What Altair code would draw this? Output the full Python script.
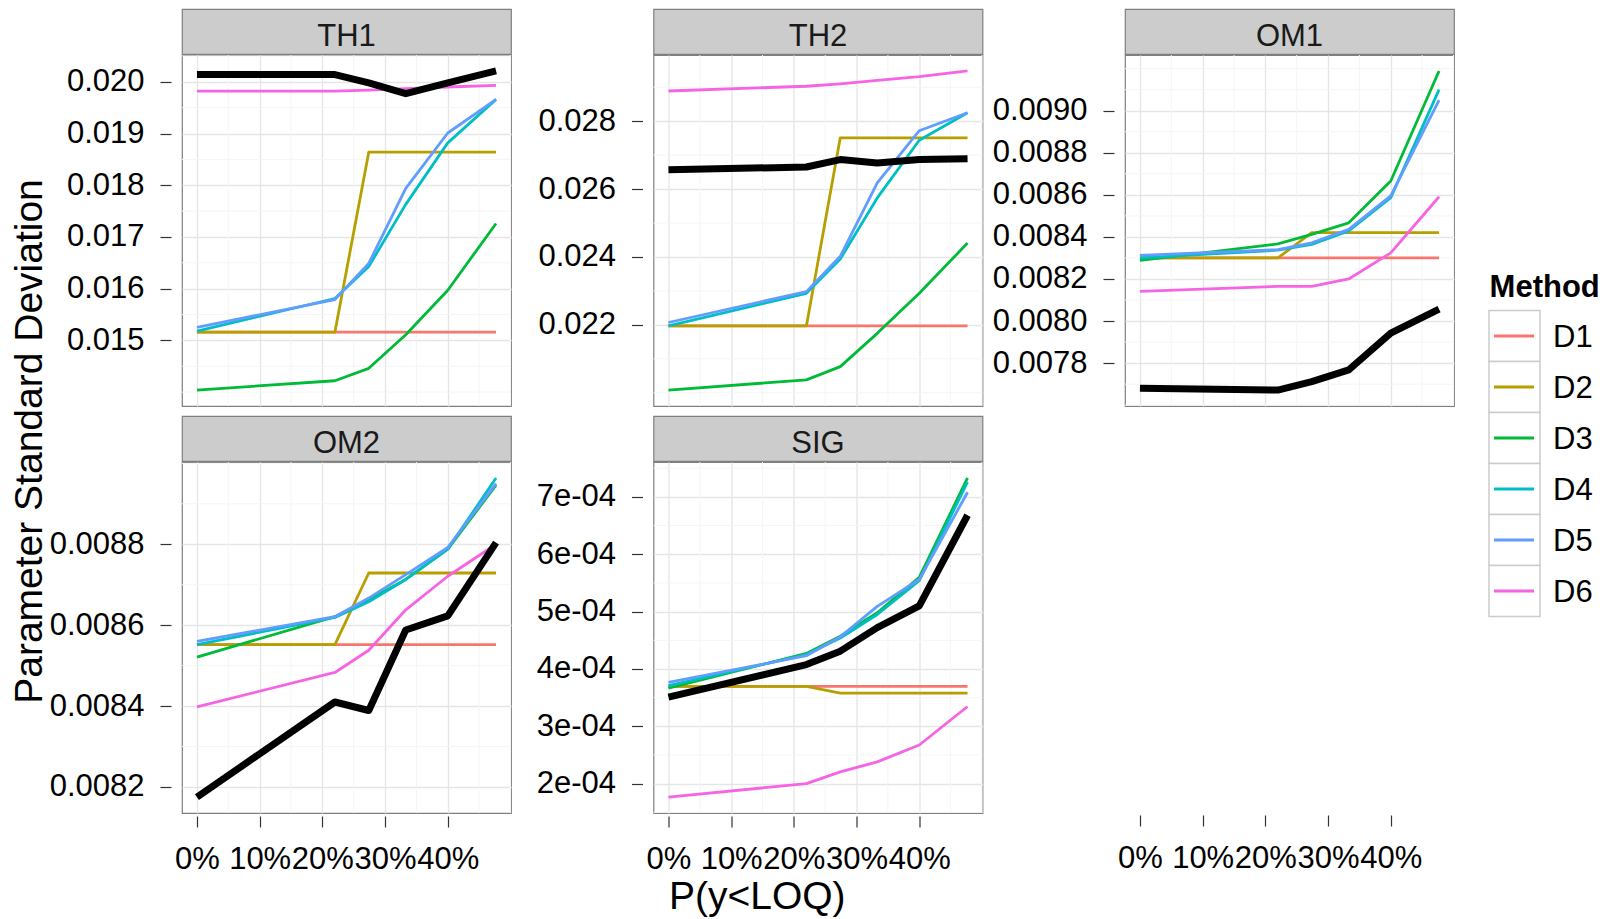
import math
import altair as alt
import pandas as pd

# ---------------- data ----------------
P_LOQ = [0.0, 0.22, 0.274, 0.333, 0.40, 0.477]
METHODS = ["D1", "D2", "D3", "D4", "D5", "D6"]
METHOD_COLORS = ["#F8766D", "#B79F00", "#00BA38", "#00BFC4", "#619CFF", "#F564E3"]
REF = "Reference"

TH1 = {
    "D1": [0.01516, 0.01516, 0.01516, 0.01516, 0.01516, 0.01516],
    "D2": [0.01516, 0.01516, 0.01864, 0.01864, 0.01864, 0.01864],
    "D3": [0.01404, 0.01422, 0.01446, 0.01511, 0.01597, 0.01726],
    "D4": [0.01518, 0.01581, 0.01643, 0.01763, 0.01882, 0.01966],
    "D5": [0.01525, 0.01579, 0.01649, 0.01794, 0.01901, 0.01966],
    "D6": [0.01982, 0.01982, 0.01984, 0.01987, 0.01990, 0.01993],
    REF: [0.02014, 0.02014, 0.01998, 0.01977, 0.01998, 0.02021],
}
TH2 = {
    "D1": [0.02197, 0.02197, 0.02197, 0.02197, 0.02197, 0.02197],
    "D2": [0.02197, 0.02197, 0.02751, 0.02751, 0.02751, 0.02751],
    "D3": [0.02008, 0.02038, 0.02077, 0.02175, 0.02293, 0.02441],
    "D4": [0.02197, 0.02293, 0.02394, 0.02574, 0.02744, 0.02825],
    "D5": [0.02207, 0.02298, 0.02402, 0.02618, 0.02772, 0.02825],
    "D6": [0.02889, 0.02903, 0.02910, 0.02920, 0.02931, 0.02948],
    REF: [0.02657, 0.02665, 0.02687, 0.02677, 0.02687, 0.02689],
}
OM1 = {
    "D1": [0.008300, 0.008300, 0.008300, 0.008300, 0.008300, 0.008300],
    "D2": [0.008300, 0.008300, 0.008420, 0.008420, 0.008420, 0.008420],
    "D3": [0.008288, 0.008367, 0.008412, 0.008467, 0.008666, 0.009189],
    "D4": [0.008300, 0.008337, 0.008364, 0.008428, 0.008587, 0.009100],
    "D5": [0.008312, 0.008340, 0.008372, 0.008436, 0.008595, 0.009050],
    "D6": [0.008141, 0.008165, 0.008165, 0.008200, 0.008324, 0.008591],
    REF: [0.007680, 0.007672, 0.007712, 0.007768, 0.007943, 0.008057],
}
OM2 = {
    "D1": [0.008552, 0.008552, 0.008552, 0.008552, 0.008552, 0.008552],
    "D2": [0.008552, 0.008552, 0.008729, 0.008729, 0.008729, 0.008729],
    "D3": [0.008521, 0.008621, 0.008663, 0.008713, 0.008788, 0.008946],
    "D4": [0.008552, 0.008619, 0.008658, 0.008713, 0.008788, 0.008964],
    "D5": [0.008560, 0.008621, 0.008667, 0.008725, 0.008792, 0.008950],
    "D6": [0.008398, 0.008483, 0.008538, 0.008638, 0.008721, 0.008800],
    REF: [0.008175, 0.008410, 0.008389, 0.008588, 0.008623, 0.008804],
}
SIG = {
    "D1": [3.696e-4, 3.696e-4, 3.696e-4, 3.696e-4, 3.696e-4, 3.696e-4],
    "D2": [3.696e-4, 3.696e-4, 3.579e-4, 3.579e-4, 3.579e-4, 3.579e-4],
    "D3": [3.667e-4, 4.270e-4, 4.570e-4, 4.980e-4, 5.596e-4, 7.330e-4],
    "D4": [3.708e-4, 4.250e-4, 4.540e-4, 4.950e-4, 5.540e-4, 7.260e-4],
    "D5": [3.766e-4, 4.230e-4, 4.560e-4, 5.090e-4, 5.560e-4, 7.080e-4],
    "D6": [1.766e-4, 2.000e-4, 2.205e-4, 2.380e-4, 2.673e-4, 3.345e-4],
    REF: [3.509e-4, 4.076e-4, 4.310e-4, 4.720e-4, 5.100e-4, 6.680e-4],
}

TH1_TICKS = [0.015, 0.016, 0.017, 0.018, 0.019, 0.020]
TH2_TICKS = [0.022, 0.024, 0.026, 0.028]
OM1_TICKS = [0.0078, 0.0080, 0.0082, 0.0084, 0.0086, 0.0088, 0.0090]
OM2_TICKS = [0.0082, 0.0084, 0.0086, 0.0088]
SIG_TICKS = [2e-4, 3e-4, 4e-4, 5e-4, 6e-4, 7e-4]
X_TICKS = [0.0, 0.1, 0.2, 0.3, 0.4]

X_TITLE = "P(y<LOQ)"
Y_TITLE = "Parameter Standard Deviation"
LEGEND_TITLE = "Method"

# ---------------- styling ----------------
FONT = "Liberation Sans"
W, H, STRIP = 329, 351, 45
BORDER = "#7F7F7F"
MAJOR_GRID = "#E5E5E5"
MINOR_GRID = "#F5F5F5"
TXT = 31
TITLE_SIZE = 39


def long_frame(series):
    rows = []
    for m, vals in series.items():
        for x, v in zip(P_LOQ, vals):
            rows.append({"p": x, "sd": v, "Method": m})
    return pd.DataFrame(rows)


def expanded(vals):
    lo, hi = min(vals), max(vals)
    pad = 0.05 * (hi - lo)
    return [lo - pad, hi + pad]


def minor_values(ticks, dom):
    step = (ticks[1] - ticks[0]) / 2
    out = []
    k = math.floor(dom[0] / step)
    while k * step <= dom[1]:
        v = k * step
        if v >= dom[0] and all(abs(v - t) > step * 0.1 for t in ticks):
            out.append(round(v, 12))
        k += 1
    return out


X_DOMAIN = expanded(P_LOQ)
X_MINOR = minor_values(X_TICKS, X_DOMAIN)
COLOR_SCALE = alt.Scale(domain=METHODS, range=METHOD_COLORS)


def x_axis(labels, grid=True):
    if labels:
        return alt.Axis(orient="bottom", values=X_TICKS, format=".0%", grid=grid,
                        gridColor=MAJOR_GRID, gridWidth=1.3, domain=False,
                        tickSize=11, tickColor="#333333", tickWidth=1.2, offset=3,
                        labelFont=FONT, labelFontSize=TXT, labelColor="black",
                        labelPadding=17, labelOverlap=False, labelFlush=False,
                        labelBound=False, title=None)
    return alt.Axis(orient="bottom", values=X_TICKS, grid=True, gridColor=MAJOR_GRID,
                    gridWidth=1.3, labels=False, ticks=False, domain=False, title=None,
                    minExtent=0, maxExtent=0)


def y_axis(ticks, fmt):
    kw = dict(orient="left", values=ticks, grid=True, gridColor=MAJOR_GRID, gridWidth=1.3,
              domain=False, tickSize=11, tickColor="#333333", tickWidth=1.2, offset=11,
              labelFont=FONT, labelFontSize=TXT, labelColor="black", labelPadding=16,
              title=None, minExtent=125, maxExtent=125)
    if fmt == "sci":
        kw["labelExpr"] = "replace(format(datum.value, '.0e'), 'e-', 'e-0')"
    else:
        kw["format"] = fmt
    return alt.Axis(**kw)


def strip(name):
    return alt.Chart(pd.DataFrame({"label": [name]})).mark_text(
        font=FONT, fontSize=TXT, color="#1A1A1A", baseline="alphabetic"
    ).encode(
        text="label:N", x=alt.value(W / 2), y=alt.value(36.5)
    ).properties(width=W, height=STRIP,
                 view=alt.ViewBackground(fill="#CCCCCC", stroke=BORDER, strokeWidth=1.2))


def panel(name, series, ticks, fmt, bottom_row):
    ydom = expanded([v for vals in series.values() for v in vals])
    xs = alt.Scale(domain=X_DOMAIN, nice=False, zero=False)
    ys = alt.Scale(domain=ydom, nice=False, zero=False)
    minor_x = alt.Chart(pd.DataFrame({"p": X_MINOR})).mark_rule(
        color=MINOR_GRID, strokeWidth=1).encode(x=alt.X("p:Q", scale=xs))
    minor_y = alt.Chart(pd.DataFrame({"sd": minor_values(ticks, ydom)})).mark_rule(
        color=MINOR_GRID, strokeWidth=1).encode(y=alt.Y("sd:Q", scale=ys))
    base = alt.Chart(long_frame(series))
    colored = base.transform_filter(alt.datum.Method != REF).mark_line(
        strokeWidth=2.8, strokeJoin="round"
    ).encode(
        x=alt.X("p:Q", scale=xs, axis=x_axis(bottom_row)),
        y=alt.Y("sd:Q", scale=ys, axis=y_axis(ticks, fmt)),
        color=alt.Color("Method:N", scale=COLOR_SCALE, legend=None),
    )
    ref = base.transform_filter(alt.datum.Method == REF).mark_line(
        color="black", strokeWidth=7, strokeJoin="round"
    ).encode(
        x=alt.X("p:Q", scale=xs),
        y=alt.Y("sd:Q", scale=ys),
    )
    body = alt.layer(minor_x, minor_y, colored, ref).properties(
        width=W, height=H,
        view=alt.ViewBackground(fill="white", stroke=BORDER, strokeWidth=1.2))
    return alt.vconcat(strip(name), body, spacing=-2)


blank = alt.Chart(pd.DataFrame({"p": P_LOQ})).mark_point(opacity=0).encode(
    x=alt.X("p:Q", scale=alt.Scale(domain=X_DOMAIN, nice=False, zero=False),
            axis=x_axis(True, grid=False))
).properties(width=W, height=STRIP + H,
             view=alt.ViewBackground(strokeOpacity=0, strokeWidth=0))

grid = alt.concat(
    panel("TH1", TH1, TH1_TICKS, ".3f", False),
    panel("TH2", TH2, TH2_TICKS, ".3f", False),
    panel("OM1", OM1, OM1_TICKS, ".4f", False),
    panel("OM2", OM2, OM2_TICKS, ".4f", True),
    panel("SIG", SIG, SIG_TICKS, "sci", True),
    blank,
    columns=3,
    spacing={"row": 7, "column": 3.5},
    align="each",
    title=alt.TitleParams(Y_TITLE, orient="left", anchor="middle", font=FONT,
                          fontSize=TITLE_SIZE, fontWeight="normal", color="black", offset=-5),
)

wrapper = alt.vconcat(
    grid,
    title=alt.TitleParams(X_TITLE, orient="bottom", anchor="middle", font=FONT,
                          fontSize=TITLE_SIZE, fontWeight="normal", color="black",
                          offset=3, dx=24),
)

# ---------------- custom legend ----------------
leg_df = pd.DataFrame({"Method": METHODS})
band = alt.Scale(domain=METHODS, range=[301.6, 607.6], paddingInner=0, paddingOuter=0)
boxes = alt.Chart(leg_df).mark_rect(fill="white", stroke="#CCCCCC", strokeWidth=1.5).encode(
    x=alt.value(0), x2=alt.value(51), y=alt.Y("Method:N", scale=band, axis=None))
keys = alt.Chart(leg_df).mark_rule(strokeWidth=3).encode(
    x=alt.value(5), x2=alt.value(45),
    y=alt.Y("Method:N", scale=band, axis=None, bandPosition=0.5),
    color=alt.Color("Method:N", scale=COLOR_SCALE, legend=None))
labels = alt.Chart(leg_df).mark_text(
    align="left", baseline="middle", font=FONT, fontSize=TXT, color="black", dy=2
).encode(x=alt.value(64), y=alt.Y("Method:N", scale=band, axis=None, bandPosition=0.5),
         text="Method:N")
leg_title = alt.Chart(pd.DataFrame({"t": [LEGEND_TITLE]})).mark_text(
    align="left", baseline="alphabetic", font=FONT, fontSize=TXT, fontWeight="bold",
    color="black"
).encode(x=alt.value(0.6), y=alt.value(288), text="t:N")
legend = alt.layer(boxes, keys, labels, leg_title).properties(
    width=110, height=620, view=alt.ViewBackground(strokeOpacity=0, strokeWidth=0))

chart = alt.hconcat(wrapper, legend, spacing=32).properties(
    padding={"left": 3, "top": 0, "right": 0, "bottom": 0}, background="white")

chart.save("out.html", embed_options={"renderer": "svg", "actions": False})
